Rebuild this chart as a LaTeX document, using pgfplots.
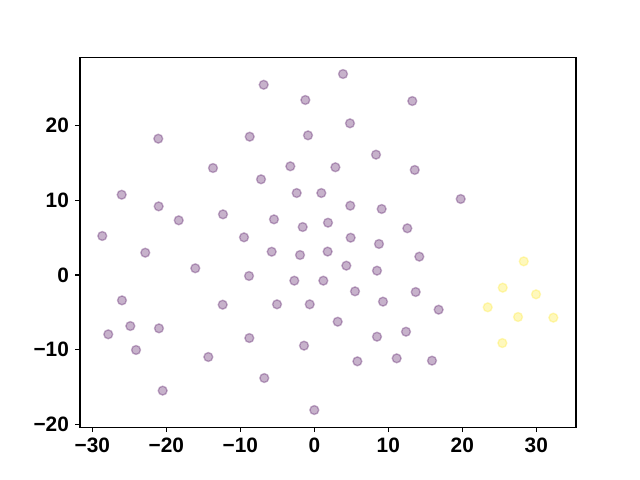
\documentclass[border=0pt]{standalone}
\usepackage{pgfplots}
\pgfplotsset{compat=1.18}
\usepackage{fontspec}
\setmainfont{Liberation Sans}
\definecolor{vpurple}{HTML}{440154}
\definecolor{vyellow}{HTML}{FDE725}
\begin{document}
\begin{tikzpicture}
\begin{axis}[
  at={(0,0)}, anchor=south west,
  scale only axis, width=357.12pt, height=266.11pt,
  xmin=-31.66, xmax=35.36, ymin=-20.40, ymax=29.14,
  axis line style={line width=0.8pt},
  tick style={line width=0.8pt, black},
  major tick length=3.5pt,
  tick align=outside, tick pos=left,
  xtick={-30,-20,-10,0,10,20,30},
  xticklabels={−30,−20,−10,0,10,20,30},
  ytick={-20,-10,0,10,20},
  yticklabels={−20,−10,0,10,20},
  ticklabel style={font=\fontsize{15}{18}\selectfont\bfseries},
  xticklabel style={yshift=-1pt},
  yticklabel style={xshift=-1pt},
  clip=false,
]
\addplot[only marks, mark=*, mark size=3.2pt,
  mark options={fill=vpurple, draw=vpurple, fill opacity=0.3, draw opacity=0.3, line width=1pt}]
coordinates {
(-6.84,25.5) (3.88,26.94) (-1.21,23.46) (13.24,23.32) (4.82,20.33)
(-21.08,18.27) (-8.73,18.54) (-0.85,18.72) (8.34,16.13) (-13.69,14.34)
(-3.24,14.57) (2.85,14.44) (13.57,14.08) (-7.2,12.83) (-26.03,10.76)
(-2.38,10.99) (0.95,10.99) (19.78,10.19) (-21.03,9.2) (4.86,9.29)
(9.1,8.85) (-18.32,7.33) (-12.34,8.13) (-5.45,7.46) (1.85,7.01)
(12.57,6.26) (-1.57,6.43) (-28.65,5.23) (-9.5,5.05) (4.91,5.0)
(8.74,4.16) (-22.84,2.99) (-5.76,3.12) (-1.93,2.68) (1.8,3.14)
(14.19,2.46) (-16.08,0.9) (4.33,1.25) (8.47,0.58) (-8.82,-0.13)
(-2.7,-0.76) (1.22,-0.76) (-25.99,-3.4) (-12.38,-3.98) (-5.04,-3.93)
(-0.62,-3.93) (5.5,-2.19) (13.7,-2.28) (9.28,-3.57) (16.8,-4.65)
(-24.86,-6.84) (-20.99,-7.15) (-27.84,-7.95) (-24.09,-10.05) (-8.78,-8.45)
(-1.39,-9.47) (3.16,-6.26) (12.39,-7.6) (8.47,-8.27) (-14.32,-10.99)
(5.82,-11.57) (11.13,-11.17) (15.9,-11.48) (-6.76,-13.81) (-20.49,-15.5)
(0.0,-18.1)
};
\addplot[only marks, mark=*, mark size=3.2pt,
  mark options={fill=vyellow, draw=vyellow, fill opacity=0.3, draw opacity=0.3, line width=1pt}]
coordinates {
(28.3,1.83) (25.46,-1.7) (29.96,-2.59) (23.43,-4.33) (27.53,-5.63) (32.3,-5.72) (25.41,-9.12)
};
\end{axis}
\path[use as bounding box] (-57.6pt,-38.02pt) rectangle (403.2pt,307.58pt);
\end{tikzpicture}
\end{document}
